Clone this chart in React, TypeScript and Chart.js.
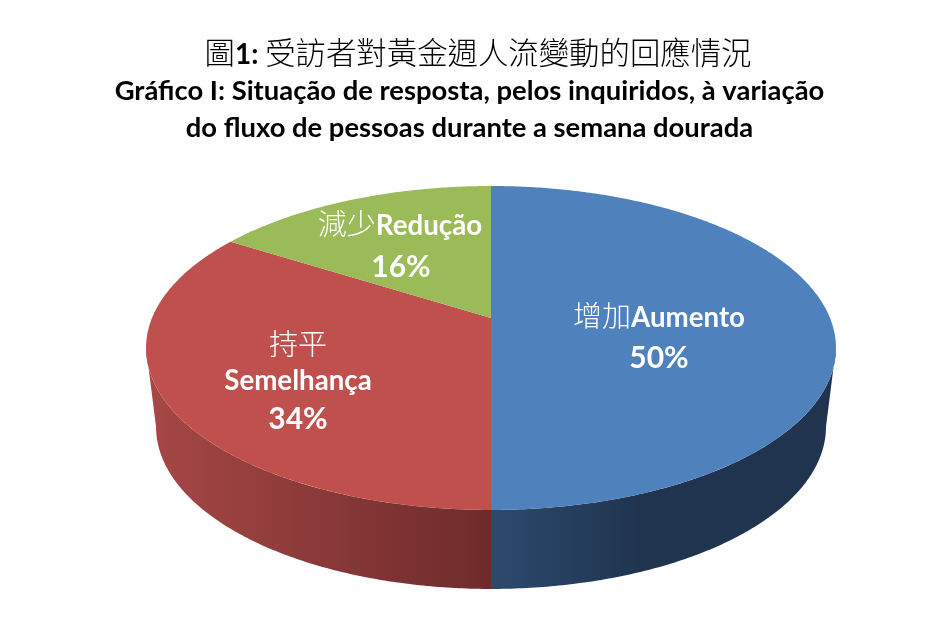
import { useEffect, useRef } from 'react';
import Chart from 'chart.js/auto';

const labelsZh = ['增加', '持平', '減少'];
const labelsPt = ['Aumento', 'Semelhança', 'Redução'];
const values = [50, 34, 16];
const sliceColors = ['#4F81BD', '#C0504D', '#9BBB59'];
const wallColors = [
  ['#2C4A6E', '#20344F'],
  ['#A64846', '#6E2B2B'],
  ['#7A9446', '#7A9446'],
];

const CJK = '"Noto Sans CJK TC"';
const LATIN = 'Lato';

// perspective of the pie disc
const CX = 491;
const CY = 318;
const RX = 339;
const TILT = 97.6;
const PERSP = -0.185;
const WALL_DROP = 79;
const WALL_SHRINK = 0.971;
// the rim angles where the disc is widest, the wall is only seen between them
const WALL_FROM = Math.asin(-PERSP);
const WALL_TO = Math.PI - WALL_FROM;

function rim(angle: number, shrink = 1, drop = 0): [number, number] {
  const w = 1 + PERSP * Math.sin(angle);
  return [
    CX + (RX * shrink * Math.cos(angle)) / w,
    (TILT * Math.sin(angle) + CY) / w + drop,
  ];
}

function angleSteps(start: number, end: number) {
  const n = Math.max(2, Math.ceil((end - start) / 0.01));
  const out: number[] = [];
  for (let i = 0; i <= n; i++) out.push(start + ((end - start) * i) / n);
  return out;
}

type Run = { text: string; font: string };

function drawRuns(ctx: CanvasRenderingContext2D, runs: Run[], center: number, baseline: number, color: string) {
  ctx.fillStyle = color;
  ctx.textAlign = 'left';
  ctx.textBaseline = 'alphabetic';
  let total = 0;
  for (const r of runs) {
    ctx.font = r.font;
    total += ctx.measureText(r.text).width;
  }
  let x = center - total / 2;
  for (const r of runs) {
    ctx.font = r.font;
    ctx.fillText(r.text, x, baseline);
    x += ctx.measureText(r.text).width;
  }
}

const pie3d = {
  id: 'pie3d',
  beforeDatasetsDraw(chart: any) {
    const ctx = chart.ctx as CanvasRenderingContext2D;
    const arcs = chart.getDatasetMeta(0).data;

    // side walls first
    arcs.forEach((arc: any, i: number) => {
      const from = Math.max(arc.startAngle, WALL_FROM);
      const to = Math.min(arc.endAngle, WALL_TO);
      if (to <= from) return;
      const steps = angleSteps(from, to);
      const grad = ctx.createLinearGradient(i === 0 ? CX : 146, 0, i === 0 ? 640 : CX, 0);
      grad.addColorStop(0, wallColors[i][0]);
      grad.addColorStop(1, wallColors[i][1]);
      ctx.beginPath();
      steps.forEach((a, k) => {
        const [x, y] = rim(a);
        if (k === 0) ctx.moveTo(x, y);
        else ctx.lineTo(x, y);
      });
      [...steps].reverse().forEach((a) => {
        const [x, y] = rim(a, WALL_SHRINK, WALL_DROP);
        ctx.lineTo(x, y);
      });
      ctx.closePath();
      ctx.fillStyle = grad;
      ctx.fill();
    });

    arcs.forEach((arc: any, i: number) => {
      ctx.beginPath();
      ctx.moveTo(CX, CY);
      angleSteps(arc.startAngle, arc.endAngle).forEach((a) => {
        const [x, y] = rim(a);
        ctx.lineTo(x, y);
      });
      ctx.closePath();
      ctx.fillStyle = sliceColors[i];
      ctx.fill();
    });
    return false;
  },
  afterDraw(chart: any) {
    const ctx = chart.ctx as CanvasRenderingContext2D;
    const zh = `300 30.4px ${CJK}`;
    const titleFont = `bold 27.4px ${LATIN}`;
    drawRuns(ctx, [
      { text: '圖', font: zh },
      { text: '1: ', font: `bold 28px ${LATIN}` },
      { text: '受訪者對黃金週人流變動的回應情況', font: zh },
    ], 478, 64, '#000');
    drawRuns(ctx, [{ text: 'Gráfico I: Situação de resposta, pelos inquiridos, à variação', font: titleFont }], 469.5, 100, '#000');
    drawRuns(ctx, [{ text: 'do fluxo de pessoas durante a semana dourada', font: titleFont }], 469.5, 137, '#000');

    const lblZh = `300 29px ${CJK}`;
    const lblPt = `bold 27.7px ${LATIN}`;
    const lblPct = `bold 30px ${LATIN}`;
    const pct = (i: number) => `${values[i]}%`;

    drawRuns(ctx, [{ text: labelsZh[0], font: lblZh }, { text: labelsPt[0], font: lblPt }], 659, 327, '#fff');
    drawRuns(ctx, [{ text: pct(0), font: lblPct }], 659, 368, '#fff');

    drawRuns(ctx, [{ text: labelsZh[1], font: lblZh }], 298, 355, '#fff');
    drawRuns(ctx, [{ text: labelsPt[1], font: lblPt }], 298, 390, '#fff');
    drawRuns(ctx, [{ text: pct(1), font: lblPct }], 298, 429, '#fff');

    drawRuns(ctx, [{ text: labelsZh[2], font: lblZh }, { text: labelsPt[2], font: lblPt }], 400, 235, '#fff');
    drawRuns(ctx, [{ text: pct(2), font: lblPct }], 401, 277, '#fff');
  },
};

export default function App() {
  const chartRef = useRef<HTMLCanvasElement>(null);

  useEffect(() => {
    if (!chartRef.current) return;
    const chart = new Chart(chartRef.current, {
      type: 'pie',
      data: {
        labels: labelsPt,
        datasets: [{ data: values, backgroundColor: sliceColors, borderWidth: 0 }],
      },
      options: {
        responsive: false,
        animation: false,
        plugins: {
          legend: { display: false },
          tooltip: { enabled: false },
        },
      },
      plugins: [pie3d],
    });
    return () => chart.destroy();
  }, []);

  return (
    <div style={{ position: 'absolute', left: 0, top: 0, width: 934, height: 625, background: '#fff' }}>
      <canvas ref={chartRef} width={934} height={625} style={{ display: 'block' }}></canvas>
    </div>
  );
}
